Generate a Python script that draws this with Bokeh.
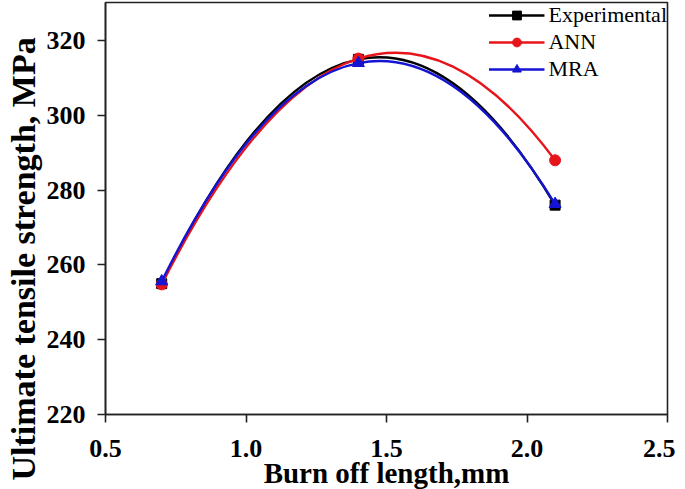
from bokeh.plotting import figure
from bokeh.models import Range1d, FixedTicker, Legend, LegendItem, Title
from bokeh.embed import file_html
from bokeh.resources import INLINE

# ---- data ----
burn_off = [0.7, 1.4, 2.1]
experimental = [255.0, 315.0, 276.0]
ann = [254.8, 315.2, 288.0]
mra = [255.6, 314.0, 276.3]

x_ticks = [0.5, 1.0, 1.5, 2.0, 2.5]
x_tick_labels = ["0.5", "1.0", "1.5", "2.0", "2.5"]
y_ticks = [220, 240, 260, 280, 300, 320]
y_tick_labels = ["220", "240", "260", "280", "300", "320"]

FONT = "Liberation Serif"
SPINE = "#222222"

p = figure(
    title=None,
    frame_width=562, frame_height=412,
    x_range=Range1d(0.5, 2.5), y_range=Range1d(220, 330.2),
    output_backend="svg", toolbar_location=None,
    min_border_left=105, min_border_right=8, min_border_top=2, min_border_bottom=60,
)
p.background_fill_color = "white"
p.border_fill_color = "white"
p.xgrid.visible = False
p.ygrid.visible = False
p.outline_line_color = SPINE
p.outline_line_width = 1.6

for ax in (p.xaxis[0], p.yaxis[0]):
    ax.axis_line_color = SPINE
    ax.axis_line_width = 1.6
    ax.major_tick_line_color = SPINE
    ax.major_tick_line_width = 1.6
    ax.major_tick_out = 8
    ax.major_tick_in = 0
    ax.minor_tick_line_color = None
    ax.major_label_text_font = FONT
    ax.major_label_text_font_style = "bold"
    ax.major_label_text_font_size = "26px"
    ax.major_label_text_color = "black"

p.xaxis.ticker = FixedTicker(ticks=x_ticks)
p.xaxis.major_label_overrides = dict(zip(x_ticks, x_tick_labels))
p.yaxis.ticker = FixedTicker(ticks=y_ticks)
p.yaxis.major_label_overrides = dict(zip(y_ticks, y_tick_labels))
p.xaxis.major_label_standoff = 17
p.yaxis.major_label_standoff = 12

p.xaxis.axis_label = "Burn off length,mm"
p.xaxis.axis_label_text_font = FONT
p.xaxis.axis_label_text_font_style = "bold"
p.xaxis.axis_label_text_font_size = "29px"
p.xaxis.axis_label_text_color = "black"
p.xaxis.axis_label_standoff = -3

# y-axis title: a side title, starting below the frame as in the reference
ytitle = Title(text="Ultimate tensile strength, MPa", align="left", offset=-66,
               vertical_align="top", standoff=0,
               text_font=FONT, text_font_style="bold", text_font_size="34px",
               text_color="black")
p.add_layout(ytitle, "left")

series = [
    ("Experimental", experimental, "#000000", "square", 10),
    ("ANN", ann, "#e8141c", "circle", 11),
    ("MRA", mra, "#1414d2", "triangle", 12),
]

items = []
for name, ys, color, marker, size in series:
    # smooth curve through the three points: quadratic Bezier whose control
    # point makes it pass through the middle point
    cx = burn_off[1]
    cy = 2 * ys[1] - 0.5 * (ys[0] + ys[2])
    q = p.quadratic(x0=[burn_off[0]], y0=[ys[0]], x1=[burn_off[2]], y1=[ys[2]],
                    cx=[cx], cy=[cy], line_color=color, line_width=2.4)
    s = p.scatter(burn_off, ys, marker=marker, size=size,
                  fill_color=color, line_color=color)
    items.append(LegendItem(label=name, renderers=[q, s]))

legend = Legend(items=items, location="top_right")
legend.label_text_font = FONT
legend.label_text_font_size = "22px"
legend.label_text_color = "black"
legend.glyph_width = 56
legend.glyph_height = 22
legend.label_height = 22
legend.label_standoff = 4
legend.spacing = 1
legend.padding = 0
legend.margin = 0
legend.border_line_alpha = 0
legend.background_fill_alpha = 0
p.add_layout(legend)

open("out.html", "w").write(file_html(p, INLINE))
